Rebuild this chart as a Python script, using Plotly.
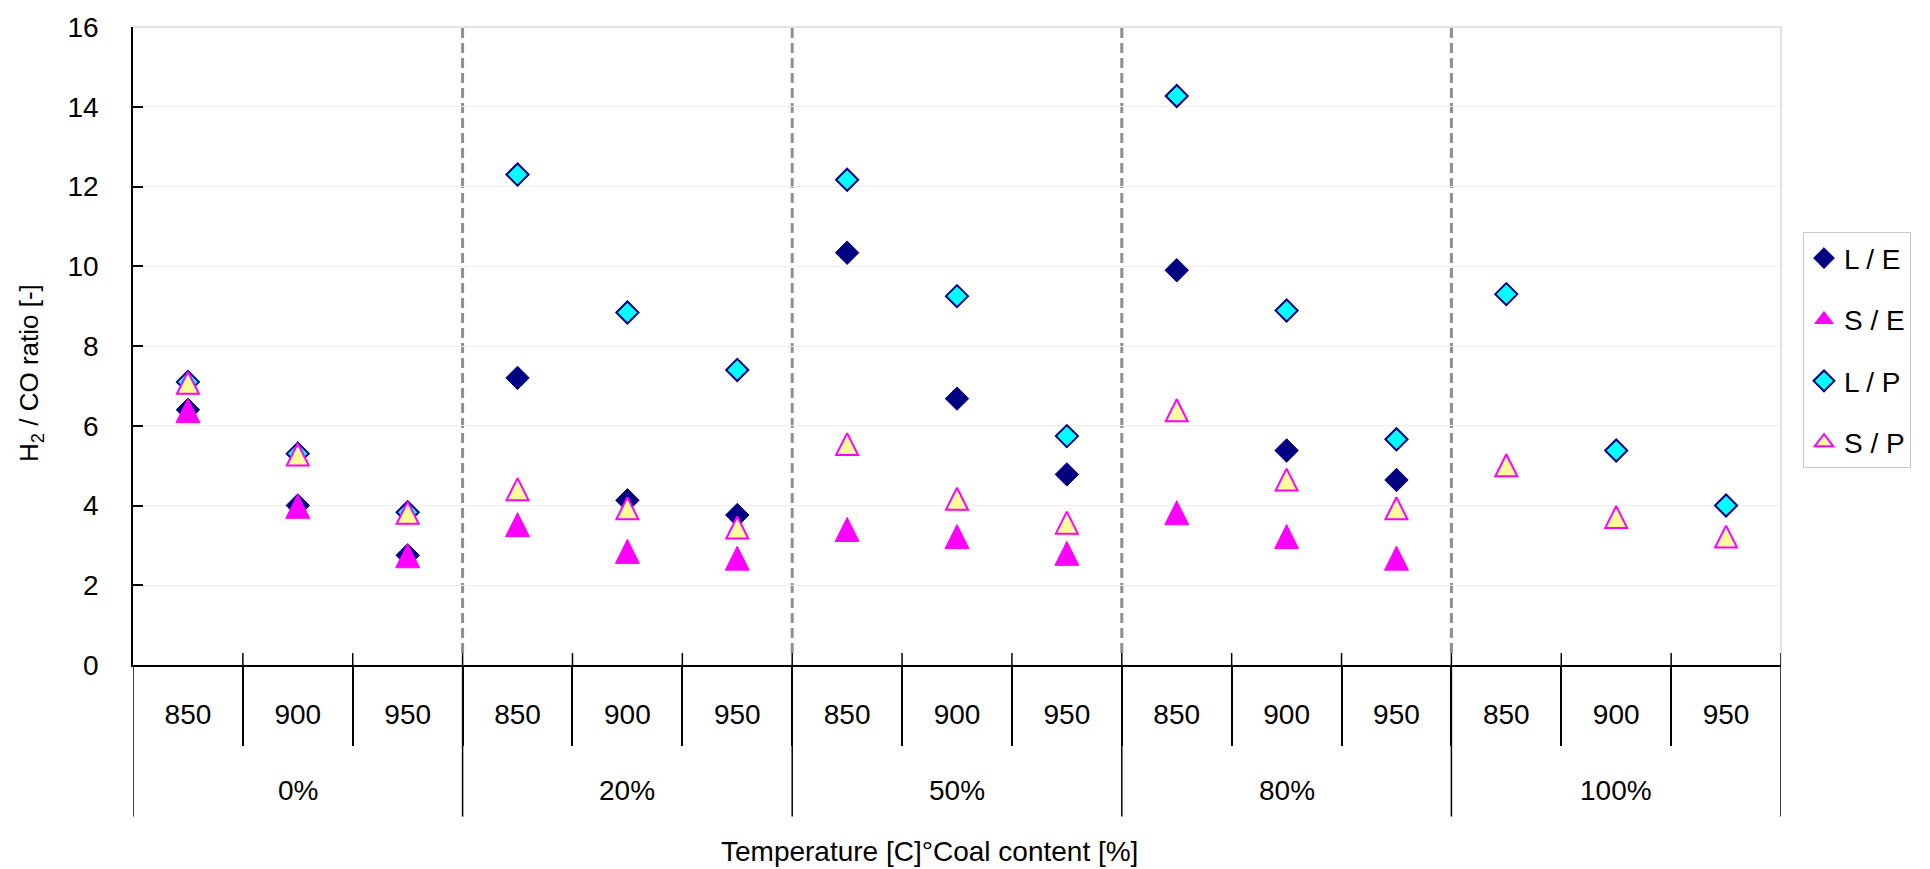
import plotly.graph_objects as go

# ---- data ----
groups = ["0%", "20%", "50%", "80%", "100%"]
temps = ["850", "900", "950"]

series_names = ["L / E", "S / E", "L / P", "S / P"]
le = [6.40, 4.00, 2.75, 7.20, 4.13, 3.76, 10.34, 6.68, 4.78, 9.90, 5.38, 4.64, None, None, None]
se = [6.38, 3.98, 2.74, 3.52, 2.85, 2.68, 3.40, 3.22, 2.80, 3.82, 3.22, 2.68, None, None, None]
lp = [7.10, 5.30, 3.83, 12.30, 8.84, 7.40, 12.17, 9.25, 5.74, 14.27, 8.89, 5.66, 9.30, 5.38, 4.00]
sp = [7.08, 5.28, 3.82, 4.41, 3.93, 3.45, 5.54, 4.17, 3.57, 6.39, 4.65, 3.93, 5.01, 3.71, 3.22]

y_ticks = [0, 2, 4, 6, 8, 10, 12, 14, 16]

# ---- derived positions ----
n_t = len(temps)
n_cat = len(groups) * n_t
x_idx = list(range(n_cat))
tick_text = [t for g in groups for t in temps]
boundaries = [i + 0.5 for i in range(-1, n_cat)]           # -0.5 ... 14.5
group_bounds = [g * n_t - 0.5 for g in range(len(groups) + 1)]
group_centers = [g * n_t + (n_t - 1) / 2 for g in range(len(groups))]

FONT = "Liberation Sans, Arial, sans-serif"
NAVY = "#000080"
MAG = "#FF00FF"

fig = go.Figure()


def tri(size, fill, lw):
    # upward triangle (rotated arrow) centred on the data point via standoff
    return dict(symbol="arrow-down", angle=180, standoff=size / 2, size=size, color=fill,
                line=dict(color=MAG, width=lw))


TRI = 24
styles = [
    dict(symbol="diamond", size=18, color=NAVY, line=dict(color=NAVY, width=1)),
    tri(TRI, MAG, 1),
    dict(symbol="diamond", size=17, color="#00FFFF", line=dict(color=NAVY, width=2)),
    tri(TRI - 2, "#FFFF99", 2),
]
legend_styles = [
    styles[0],
    dict(symbol="triangle-up", size=16, color=MAG, line=dict(color=MAG, width=1)),
    styles[2],
    dict(symbol="triangle-up", size=16, color="#FFFF99", line=dict(color=MAG, width=2)),
]
for name, vals, st, lst in zip(series_names, [le, se, lp, sp], styles, legend_styles):
    is_tri = st["symbol"].startswith("arrow")
    fig.add_trace(go.Scatter(
        x=x_idx, y=vals, mode="markers", name=name, marker=st,
        legendgroup=name, cliponaxis=False, showlegend=not is_tri,
    ))
    if is_tri:
        # legend-only entry (no data) so the legend symbol is centred
        fig.add_trace(go.Scatter(
            x=[None], y=[None], mode="markers", name=name, marker=lst,
            legendgroup=name, showlegend=True, hoverinfo="skip",
        ))

W, H = 1930, 869
L, R, T, B = 133, 149, 25, 204
plot_h = H - T - B

shapes = []
# dashed separators between coal-content groups
for gb in group_bounds[1:-1]:
    shapes.append(dict(type="line", xref="x", yref="paper", x0=gb, x1=gb,
                       y0=12 / plot_h, y1=1, line=dict(color="#8f8f8f", width=3, dash="10px,5px"),
                       layer="below"))
# light border top & right
shapes.append(dict(type="line", xref="paper", yref="paper", x0=0, x1=1, y0=1, y1=1,
                   line=dict(color="#c8c8c8", width=1)))
shapes.append(dict(type="line", xref="paper", yref="paper", x0=1, x1=1, y0=0, y1=1,
                   line=dict(color="#c8c8c8", width=1)))
# small upward parts of the boundary ticks
for b in boundaries[1:]:
    shapes.append(dict(type="line", xref="x", yref="paper", x0=b, x1=b,
                       y0=0, y1=12 / plot_h, line=dict(color="black", width=1.5)))
# long group dividers below axis
for gb in group_bounds:
    shapes.append(dict(type="line", xref="x", yref="paper", x0=gb, x1=gb,
                       y0=0, y1=-152 / plot_h, line=dict(color="black", width=1.5)))

annotations = []
for gc, g in zip(group_centers, groups):
    annotations.append(dict(x=gc, y=-126 / plot_h, xref="x", yref="paper", text=g,
                            showarrow=False, xanchor="center", yanchor="middle",
                            font=dict(family=FONT, size=28, color="black")))
annotations.append(dict(x=(929 - L) / (W - L - R), y=-(852 - (H - B)) / plot_h,
                        xref="paper", yref="paper",
                        text="Temperature [C]°Coal content [%]", showarrow=False,
                        xanchor="center", yanchor="middle",
                        font=dict(family=FONT, size=28, color="black")))
annotations.append(dict(x=-(L - 31) / (W - L - R), y=(H - B - 372) / plot_h,
                        xref="paper", yref="paper", textangle=-90,
                        text="H<sub>2</sub> / CO ratio [-]", showarrow=False,
                        xanchor="center", yanchor="middle",
                        font=dict(family=FONT, size=26, color="black")))

fig.update_layout(
    width=W, height=H,
    margin=dict(l=L, r=R, t=T, b=B),
    paper_bgcolor="white", plot_bgcolor="white",
    font=dict(family=FONT, size=28, color="black"),
    showlegend=True,
    legend=dict(x=(1803 - L) / (W - L - R), y=(H - B - 231) / plot_h,
                xanchor="left", yanchor="top",
                bordercolor="#c8c8c8", borderwidth=1, bgcolor="white",
                font=dict(family=FONT, size=28, color="black"),
                traceorder="grouped", tracegroupgap=22),
    shapes=shapes, annotations=annotations,
    xaxis=dict(range=[-0.5, n_cat - 0.5], tickmode="array", tickvals=x_idx, ticktext=tick_text,
               ticks="", showgrid=False, zeroline=False, showline=True,
               linecolor="black", linewidth=1.5,
               tickfont=dict(family=FONT, size=28, color="black"),
               ticklabelstandoff=24,
               minor=dict(tickmode="array", tickvals=boundaries[1:-1], ticks="outside",
                          ticklen=79, tickwidth=1.5, tickcolor="black", showgrid=False)),
    yaxis=dict(range=[0, 16], tickmode="array", tickvals=y_ticks,
               ticks="inside", ticklen=10, tickwidth=1.5, tickcolor="black",
               showgrid=True, gridcolor="#ededed", gridwidth=1, zeroline=False,
               showline=True, linecolor="black", linewidth=1.5,
               tickfont=dict(family=FONT, size=28, color="black"),
               ticklabelstandoff=27),
)

fig.write_html("out.html")
